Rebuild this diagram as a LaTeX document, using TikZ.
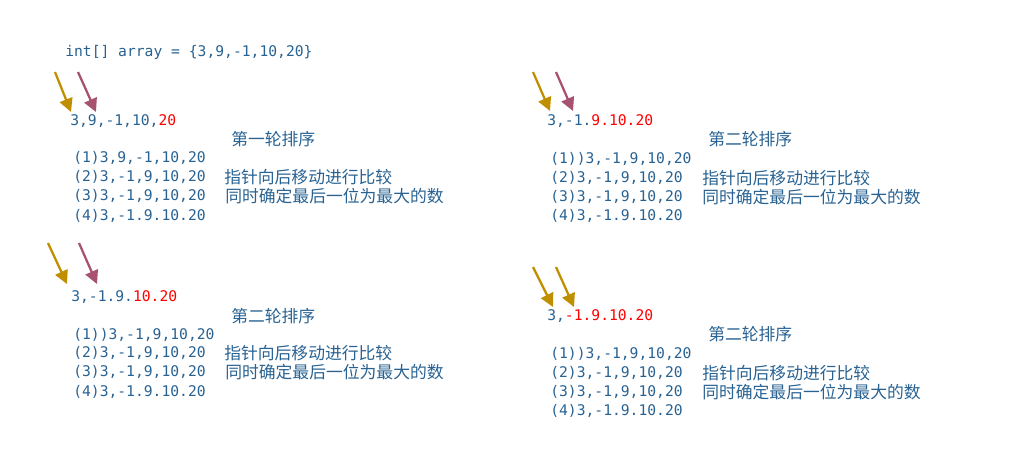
\documentclass[tikz,border=0pt]{standalone}
\usepackage{fontspec}
\newfontfamily\monofont{DejaVu Sans Mono}
\newfontfamily\cjk{Noto Sans CJK SC}
\usetikzlibrary{arrows.meta}
\definecolor{codeblue}{RGB}{40,98,146}
\definecolor{ptrgold}{RGB}{191,143,0}
\definecolor{ptrpink}{RGB}{166,82,112}
\tikzset{
  code/.style={anchor=west,inner sep=0pt,text=codeblue,font=\monofont\fontsize{11pt}{13pt}\selectfont},
  note/.style={anchor=west,inner sep=0pt,text=codeblue,font=\cjk\fontsize{12.6pt}{15pt}\selectfont},
  pointer/.style={line width=1.7pt,-{Triangle[length=10pt,width=10pt]}},
}
\begin{document}
\begin{tikzpicture}[x=0.75pt,y=-0.75pt]
\useasboundingbox(0,0)rectangle(1009,462);
\node[code](decl)at(65,52){int[] array = \{3,9,-1,10,20\}};
% first round
\coordinate(a-gs)at(55,72);\coordinate(a-ge)at(71,112);
\coordinate(a-ps)at(78,72);\coordinate(a-pe)at(96,112);
\draw[pointer,ptrgold](a-gs)--(a-ge);
\draw[pointer,ptrpink](a-ps)--(a-pe);
\node[code](a-row)at(70,121){3,9,-1,10,{\color{red}20}};
\node[note](a-title)at(231,139){第一轮排序};
\node[code](a-l1)at(73,158){(1)3,9,-1,10,20};
\node[code](a-l2)at(73,177){(2)3,-1,9,10,20};
\node[code](a-l3)at(73,196){(3)3,-1,9,10,20};
\node[code](a-l4)at(73,216){(4)3,-1.9.10.20};
\node[note](a-n1)at(224,177){指针向后移动进行比较};
\node[note](a-n2)at(225,196){同时确定最后一位为最大的数};
% second round, top right
\begin{scope}[shift={(477,0)}]
\coordinate(b-gs)at(56,72);\coordinate(b-ge)at(73,111);
\coordinate(b-ps)at(79,72);\coordinate(b-pe)at(96,111);
\draw[pointer,ptrgold](b-gs)--(b-ge);
\draw[pointer,ptrpink](b-ps)--(b-pe);
\node[code](b-row)at(70,121){3,-1.{\color{red}9.10.20}};
\node[note](b-title)at(231,139){第二轮排序};
\node[code](b-l1)at(73,159){(1))3,-1,9,10,20};
\node[code](b-l2)at(73,178){(2)3,-1,9,10,20};
\node[code](b-l3)at(73,197){(3)3,-1,9,10,20};
\node[code](b-l4)at(73,216){(4)3,-1.9.10.20};
\node[note](b-n1)at(225,178){指针向后移动进行比较};
\node[note](b-n2)at(225,197){同时确定最后一位为最大的数};
\end{scope}
% bottom left
\begin{scope}[shift={(0,177)}]
\coordinate(c-gs)at(48,66);\coordinate(c-ge)at(67,107);
\coordinate(c-ps)at(79,66);\coordinate(c-pe)at(97,107);
\draw[pointer,ptrgold](c-gs)--(c-ge);
\draw[pointer,ptrpink](c-ps)--(c-pe);
\node[code](c-row)at(71,120){3,-1.9.{\color{red}10.20}};
\node[note](c-title)at(231,139){第二轮排序};
\node[code](c-l1)at(73,158){(1))3,-1,9,10,20};
\node[code](c-l2)at(73,176){(2)3,-1,9,10,20};
\node[code](c-l3)at(73,195){(3)3,-1,9,10,20};
\node[code](c-l4)at(73,215){(4)3,-1.9.10.20};
\node[note](c-n1)at(224,176){指针向后移动进行比较};
\node[note](c-n2)at(225,195){同时确定最后一位为最大的数};
\end{scope}
% bottom right
\begin{scope}[shift={(477,195)}]
\coordinate(d-gs)at(56,72);\coordinate(d-ge)at(76,112);
\coordinate(d-ps)at(79,72);\coordinate(d-pe)at(97,112);
\draw[pointer,ptrgold](d-gs)--(d-ge);
\draw[pointer,ptrgold](d-ps)--(d-pe);
\node[code](d-row)at(70,121){3,{\color{red}-1.9.10.20}};
\node[note](d-title)at(231,139){第二轮排序};
\node[code](d-l1)at(73,159){(1))3,-1,9,10,20};
\node[code](d-l2)at(73,178){(2)3,-1,9,10,20};
\node[code](d-l3)at(73,197){(3)3,-1,9,10,20};
\node[code](d-l4)at(73,216){(4)3,-1.9.10.20};
\node[note](d-n1)at(225,178){指针向后移动进行比较};
\node[note](d-n2)at(225,197){同时确定最后一位为最大的数};
\end{scope}
\end{tikzpicture}
\end{document}
